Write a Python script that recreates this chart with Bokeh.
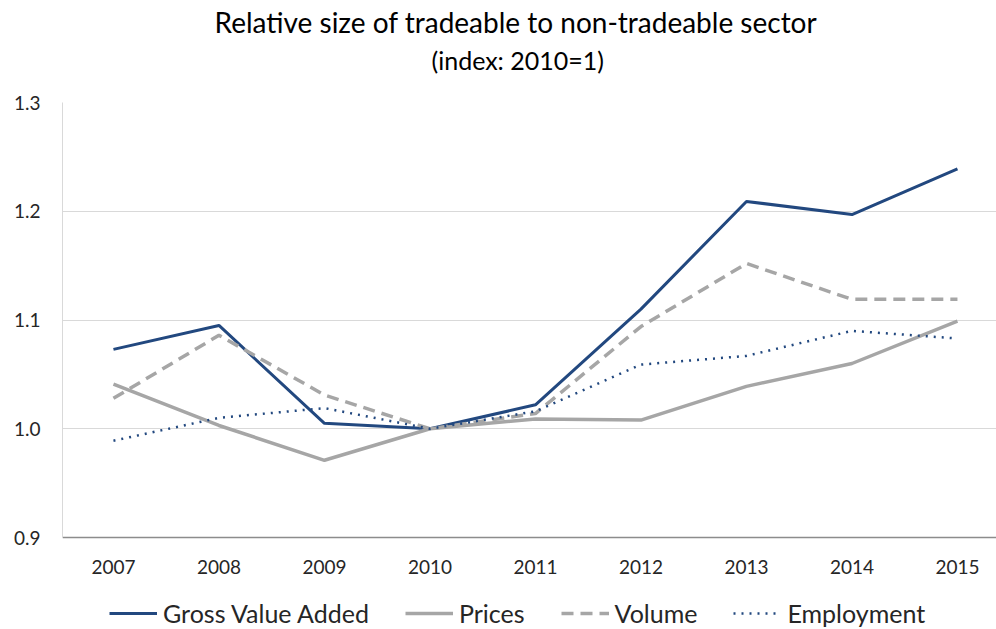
from bokeh.plotting import figure
from bokeh.models import Legend, LegendItem, Title, FixedTicker
from bokeh.embed import file_html
from bokeh.resources import INLINE

years = [2007, 2008, 2009, 2010, 2011, 2012, 2013, 2014, 2015]
gva = [1.073, 1.095, 1.005, 1.000, 1.022, 1.110, 1.209, 1.197, 1.239]
prices = [1.041, 1.003, 0.971, 1.000, 1.009, 1.008, 1.039, 1.060, 1.099]
volume = [1.028, 1.086, 1.031, 1.000, 1.014, 1.094, 1.152, 1.119, 1.119]
employment = [0.989, 1.010, 1.019, 1.000, 1.016, 1.059, 1.067, 1.090, 1.083]
y_ticks = [0.9, 1.0, 1.1, 1.2, 1.3]
title_text = "Relative size of tradeable to non-tradeable sector"
subtitle_text = "(index: 2010=1)"

FONT = "Lato"
BLUE = "#22487f"
GRAY = "#a6a6a6"
TXT = "#262626"

Y0, Y1 = 0.9, 1.3
FRAME_H = 527
PPU = 435 / (Y1 - Y0)
y_start = Y1 - FRAME_H / PPU  # frame extends below the axis to hold the legend

p = figure(frame_width=934, frame_height=FRAME_H, output_backend="svg", toolbar_location=None,
           x_range=(2006.517, 2015.37), y_range=(y_start, Y1),
           min_border_left=62, min_border_right=0, min_border_top=0,
           min_border_bottom=0, title=None)
p.outline_line_color = None
p.background_fill_color = "white"
p.border_fill_color = "white"

p.xaxis.ticker = FixedTicker(ticks=years)
p.xaxis.major_label_overrides = {y: str(y) for y in years}
p.xaxis.fixed_location = Y0
p.yaxis.ticker = FixedTicker(ticks=y_ticks)
p.yaxis.major_label_overrides = {t: f"{t:.1f}" for t in y_ticks}
p.yaxis.bounds = (Y0, Y1)
for ax in (p.xaxis, p.yaxis):
    ax.major_tick_line_color = None
    ax.minor_tick_line_color = None
    ax.major_tick_out = 0
    ax.major_tick_in = 0
    ax.minor_tick_out = 0
    ax.minor_tick_in = 0
    ax.major_label_text_font = FONT
    ax.major_label_text_font_size = "19px"
    ax.major_label_text_color = TXT
p.xaxis.axis_line_color = "#8c8c8c"
p.xaxis.axis_line_width = 1.5
p.yaxis.axis_line_color = "#d9d9d9"
p.xaxis.major_label_standoff = 22
p.yaxis.major_label_standoff = 22
p.xgrid.grid_line_color = None
p.ygrid.ticker = FixedTicker(ticks=y_ticks)
p.ygrid.grid_line_color = "#d9d9d9"
p.ygrid.grid_line_width = 1

r_gva = p.line(years, gva, line_color=BLUE, line_width=3)
r_pr = p.line(years, prices, line_color=GRAY, line_width=3.5)
r_vol = p.line(years, volume, line_color=GRAY, line_width=3.5, line_dash="12 7")
r_emp = p.line(years, employment, line_color=BLUE, line_width=2.5, line_dash="2 6")

legend = Legend(items=[LegendItem(label="Gross Value Added", renderers=[r_gva]),
                       LegendItem(label="Prices", renderers=[r_pr]),
                       LegendItem(label="Volume", renderers=[r_vol]),
                       LegendItem(label="Employment", renderers=[r_emp])],
                orientation="horizontal", location=(47, 1),
                glyph_width=48, glyph_height=20, label_standoff=6, spacing=36,
                padding=0, margin=0, border_line_color=None,
                background_fill_alpha=0, label_text_font=FONT,
                label_text_font_size="25px", label_text_color=TXT)
p.add_layout(legend, "center")

# spacer between frame and subtitle
p.add_layout(Title(text=" ", text_font=FONT, text_font_size="1px", standoff=23), "above")
p.add_layout(Title(text=subtitle_text, text_font=FONT, text_font_size="25px",
                   text_font_style="normal", align="left", text_color="black",
                   standoff=4, offset=369), "above")
p.add_layout(Title(text=title_text, text_font=FONT, text_font_size="28px",
                   text_font_style="normal", align="left", text_color="black",
                   standoff=4, offset=152), "above")

open("out.html", "w").write(file_html(p, INLINE))
